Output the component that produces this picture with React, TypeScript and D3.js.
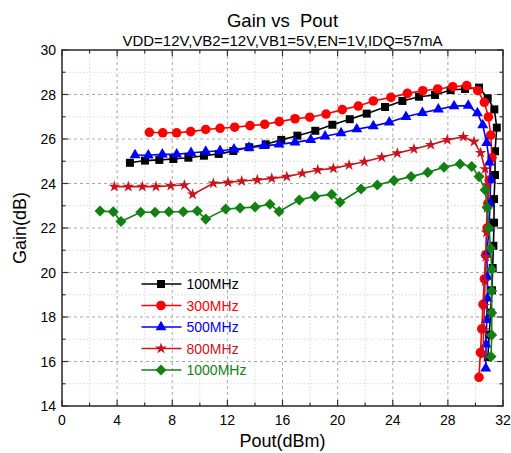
import React from "react";
import * as d3 from "d3";

const xTicks = [0, 4, 8, 12, 16, 20, 24, 28, 32];
const yTicks = [14, 16, 18, 20, 22, 24, 26, 28, 30];

const s100x = [4.93, 6.02, 7.06, 8.08, 9.17, 10.30, 11.37, 12.43, 13.59, 14.78, 15.91, 17.08, 18.38, 19.62, 20.88, 22.11, 23.44, 24.70, 25.91, 27.07, 28.20, 29.24, 30.26, 30.89, 31.37, 31.55, 31.42, 31.42, 31.35, 31.35, 31.3, 31.25, 31.2, 31.1, 31.0, 30.9];
const s100y = [24.93, 25.03, 25.06, 25.10, 25.16, 25.25, 25.33, 25.46, 25.63, 25.76, 25.96, 26.15, 26.37, 26.64, 26.89, 27.14, 27.44, 27.71, 27.90, 27.98, 28.20, 28.25, 28.31, 27.83, 27.33, 26.51, 25.45, 24.38, 23.30, 22.24, 21.2, 20.2, 19.2, 18.2, 17.2, 16.2];

const s300x = [6.34, 7.31, 8.32, 9.34, 10.43, 11.47, 12.53, 13.64, 14.71, 15.77, 16.91, 17.98, 19.16, 20.34, 21.50, 22.59, 23.87, 25.06, 26.18, 27.26, 28.35, 29.37, 30.17, 30.65, 30.94, 31.11, 31.2, 31.0, 30.9, 30.85, 30.75, 30.65, 30.55, 30.46, 30.36, 30.26];
const s300y = [26.30, 26.28, 26.28, 26.33, 26.43, 26.48, 26.53, 26.60, 26.66, 26.78, 26.91, 26.98, 27.12, 27.32, 27.48, 27.71, 27.87, 28.05, 28.17, 28.25, 28.35, 28.40, 28.17, 27.65, 26.99, 26.17, 25.16, 24.16, 23.1, 22.0, 20.8, 19.71, 18.57, 17.47, 16.40, 15.29];

const s500x = [5.30, 6.26, 7.28, 8.32, 9.36, 10.43, 11.47, 12.48, 13.57, 14.66, 15.75, 16.91, 18.05, 19.09, 20.25, 21.39, 22.59, 23.75, 24.96, 26.15, 27.31, 28.45, 29.48, 30.14, 30.53, 30.82, 31.01, 31.11, 31.05, 31.0, 30.82, 30.87, 30.87, 30.82, 30.77, 30.75];
const s500y = [25.28, 25.27, 25.31, 25.31, 25.38, 25.43, 25.47, 25.54, 25.61, 25.69, 25.76, 25.85, 25.96, 26.12, 26.27, 26.44, 26.58, 26.75, 27.0, 27.18, 27.33, 27.48, 27.50, 27.16, 26.63, 25.83, 24.95, 24.16, 23.1, 22.0, 20.82, 19.81, 18.84, 17.87, 16.77, 15.69];

const s800x = [3.80, 4.81, 5.83, 6.82, 7.89, 8.88, 9.48, 10.98, 12.05, 13.04, 14.17, 15.22, 16.31, 17.44, 18.56, 19.69, 20.83, 21.94, 23.20, 24.33, 25.54, 26.76, 27.96, 29.12, 29.90, 30.38, 30.70, 30.86, 30.85, 30.8, 30.75, 30.7, 30.65, 30.6, 30.55];
const s800y = [23.86, 23.86, 23.86, 23.86, 23.90, 23.93, 23.51, 24.01, 24.05, 24.11, 24.16, 24.23, 24.31, 24.46, 24.61, 24.68, 24.83, 24.98, 25.18, 25.36, 25.55, 25.74, 25.96, 26.10, 25.88, 25.38, 24.65, 23.93, 22.9, 21.8, 20.7, 19.6, 18.5, 17.4, 16.3];

const s1000x = [2.76, 3.72, 4.28, 5.71, 6.75, 7.76, 8.80, 9.82, 10.43, 11.88, 12.92, 14.01, 15.09, 15.75, 17.22, 18.36, 19.57, 20.17, 21.70, 22.88, 24.09, 25.33, 26.54, 27.72, 28.88, 29.73, 30.26, 30.70, 30.86, 30.99, 31.10, 31.18, 31.18, 31.18, 31.18, 31.13];
const s1000y = [22.76, 22.73, 22.29, 22.71, 22.71, 22.73, 22.73, 22.76, 22.40, 22.85, 22.90, 22.94, 23.07, 22.74, 23.26, 23.42, 23.51, 23.16, 23.75, 23.93, 24.13, 24.31, 24.50, 24.73, 24.88, 24.76, 24.31, 23.71, 22.91, 21.99, 21.09, 20.14, 19.17, 18.19, 17.19, 16.22];

const seriesNames = ["100MHz", "300MHz", "500MHz", "800MHz", "1000MHz"];
const seriesColors = ["#000000", "#ff0000", "#0000ff", "#c8141e", "#128012"];
const seriesX = [s100x, s300x, s500x, s800x, s1000x];
const seriesY = [s100y, s300y, s500y, s800y, s1000y];
const seriesSymbols = [d3.symbolSquare, d3.symbolCircle, d3.symbolTriangle, d3.symbolStar, d3.symbolDiamond2];
const symbolSizes = [64, 72, 52, 42, 78];

const W = 511, H = 453;
const L = 62, R = 503, T = 50, B = 406;
const FONT = "Arial, 'Liberation Sans', sans-serif";

export default function App() {
  const x = d3.scaleLinear().domain([0, 32]).range([L, R]);
  const y = d3.scaleLinear().domain([14, 30]).range([B, T]);
  const line = d3.line<[number, number]>().x(d => x(d[0])).y(d => y(d[1]));

  const xMinor = d3.range(0, 33, 2);
  const yMinor = d3.range(14, 31, 1);

  const legendY = [284, 305.5, 327, 348.5, 370];

  return (
    <svg width={W} height={H} style={{ position: "absolute", left: 0, top: 0, background: "#fff" }} fontFamily={FONT}>
      <rect x={0} y={0} width={W} height={H} fill="#fff" />
      {/* grid */}
      {xMinor.filter(v => v > 0 && v < 32).map(v => (
        <line key={"gx" + v} x1={x(v)} x2={x(v)} y1={T} y2={B}
          stroke={v % 4 === 0 ? "#a8a8a8" : "#d8d8d8"} strokeWidth={1}
          strokeDasharray={v % 4 === 0 ? "3,3" : "1.5,2"} />
      ))}
      {yMinor.filter(v => v > 14 && v < 30).map(v => (
        <line key={"gy" + v} x1={L} x2={R} y1={y(v)} y2={y(v)}
          stroke={v % 2 === 0 ? "#a8a8a8" : "#d8d8d8"} strokeWidth={1}
          strokeDasharray={v % 2 === 0 ? "3,3" : "1.5,2"} />
      ))}
      {/* series */}
      {seriesNames.map((name, i) => {
        const pts: [number, number][] = seriesX[i].map((vx, j) => [vx, seriesY[i][j]]);
        const sym = d3.symbol().type(seriesSymbols[i]).size(symbolSizes[i]);
        return (
          <g key={name}>
            <path d={line(pts) || ""} fill="none" stroke={seriesColors[i]} strokeWidth={1.6} />
            {pts.map((p, j) => (
              <path key={j} d={sym() || ""} transform={`translate(${x(p[0])},${y(p[1])})`} fill={seriesColors[i]} />
            ))}
          </g>
        );
      })}
      {/* frame */}
      <rect x={L} y={T} width={R - L} height={B - T} fill="none" stroke="#333" strokeWidth={1.6} />
      {/* ticks */}
      {xMinor.map(v => {
        const len = v % 4 === 0 ? 6 : 3.5;
        return (
          <g key={"tx" + v} stroke="#333" strokeWidth={1.2}>
            <line x1={x(v)} x2={x(v)} y1={B} y2={B - len} />
            <line x1={x(v)} x2={x(v)} y1={T} y2={T + len} />
          </g>
        );
      })}
      {yMinor.map(v => {
        const len = v % 2 === 0 ? 6 : 3.5;
        return (
          <g key={"ty" + v} stroke="#333" strokeWidth={1.2}>
            <line x1={L} x2={L + len} y1={y(v)} y2={y(v)} />
            <line x1={R} x2={R - len} y1={y(v)} y2={y(v)} />
          </g>
        );
      })}
      {/* tick labels */}
      {xTicks.map(v => (
        <text key={"xl" + v} x={x(v)} y={B + 19} textAnchor="middle" fontSize={14} fill="#000">{v}</text>
      ))}
      {yTicks.map(v => (
        <text key={"yl" + v} x={L - 6} y={y(v) + 5} textAnchor="end" fontSize={14} fill="#000">{v}</text>
      ))}
      {/* axis titles */}
      <text x={(L + R) / 2} y={447} textAnchor="middle" fontSize={18} fill="#000">Pout(dBm)</text>
      <text transform={`translate(26,${(T + B) / 2}) rotate(-90)`} textAnchor="middle" fontSize={18} fill="#000">Gain(dB)</text>
      {/* titles */}
      <text x={(L + R) / 2} y={27} textAnchor="middle" fontSize={18.5} fill="#000" style={{ whiteSpace: "pre" }}>{"Gain vs  Pout"}</text>
      <text x={(L + R) / 2} y={46} textAnchor="middle" fontSize={15} fill="#000">VDD=12V,VB2=12V,VB1=5V,EN=1V,IDQ=57mA</text>
      {/* legend */}
      {seriesNames.map((name, i) => {
        const sym = d3.symbol().type(seriesSymbols[i]).size(symbolSizes[i]);
        return (
          <g key={"lg" + name}>
            <line x1={141.5} x2={181.5} y1={legendY[i]} y2={legendY[i]} stroke={seriesColors[i]} strokeWidth={1.6} />
            <path d={sym() || ""} transform={`translate(161,${legendY[i]})`} fill={seriesColors[i]} />
            <text x={186.5} y={legendY[i] + 5} fontSize={14} fill={seriesColors[i]}>{name}</text>
          </g>
        );
      })}
    </svg>
  );
}
